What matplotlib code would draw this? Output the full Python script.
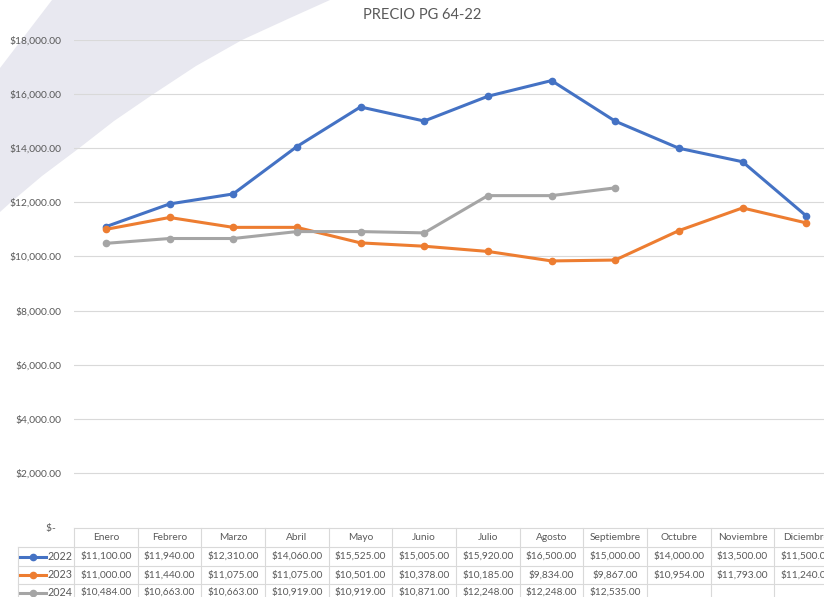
import numpy as np
import matplotlib
matplotlib.use("Agg")
import matplotlib.pyplot as plt
from matplotlib.patches import Polygon
from matplotlib.transforms import blended_transform_factory

plt.rcParams['font.family'] = ['Lato', 'DejaVu Sans']

title = "PRECIO PG 64-22"
months = ["Enero", "Febrero", "Marzo", "Abril", "Mayo", "Junio", "Julio",
          "Agosto", "Septiembre", "Octubre", "Noviembre", "Diciembre"]
series_names = ["2022", "2023", "2024"]
v2022 = [11100, 11940, 12310, 14060, 15525, 15005, 15920, 16500, 15000, 14000, 13500, 11500]
v2023 = [11000, 11440, 11075, 11075, 10501, 10378, 10185, 9834, 9867, 10954, 11793, 11240]
v2024 = [10484, 10663, 10663, 10919, 10919, 10871, 12248, 12248, 12535, None, None, None]
y_ticks = [0, 2000, 4000, 6000, 8000, 10000, 12000, 14000, 16000, 18000]
colors = ["#4472C4", "#ED7D31", "#A5A5A5"]

W, H = 824, 597
fig = plt.figure(figsize=(W / 100, H / 100), dpi=100)
fig.patch.set_facecolor("white")

# background axes in pixel coordinates
bg = fig.add_axes([0, 0, 1, 1], zorder=0)
bg.set_xlim(0, W)
bg.set_ylim(H, 0)
bg.axis("off")
swoosh = [(52, 0), (330, 0), (290, 18), (242, 40), (196, 66), (152, 95), (114, 121),
          (78, 149), (42, 176), (10, 203), (0, 212), (0, 68), (26, 34)]
bg.add_patch(Polygon(swoosh, closed=True, facecolor="#E8E8F0", edgecolor="none"))

ax = fig.add_axes([74 / W, 70 / H, 764 / W, 487 / H], zorder=1)
ax.patch.set_alpha(0)
x = np.arange(len(months))
ax.set_xlim(-0.5, len(months) - 0.5)
ax.set_ylim(0, 18000)
for s in ax.spines.values():
    s.set_visible(False)
ax.set_yticks(y_ticks)
ax.set_yticklabels(["$-  "] + ["${:,.2f}".format(v) for v in y_ticks[1:]])
ax.tick_params(axis="y", length=0, pad=9, labelsize=7.4, labelcolor="#595959")
ax.tick_params(axis="x", length=0, labelbottom=False)
for t in y_ticks[1:]:
    ax.axhline(t, color="#D9D9D9", lw=0.8, zorder=0)

all_series = [v2022, v2023, v2024]
for vals, c in zip(all_series, colors):
    arr = np.array([np.nan if v is None else v for v in vals], dtype=float)
    ax.plot(x, arr, color=c, lw=2.2, marker="o", markersize=4.5, zorder=3,
            solid_capstyle="round")

fig.text(422 / W, 1 - 15 / H, title, ha="center", va="center", fontsize=10.5, color="#595959")

# data table
tr = blended_transform_factory(ax.transData, bg.transData)
border = "#D9D9D9"
rows_y = [528, 547, 566, 584, 601]
edges = np.arange(len(months) + 1) - 0.5
for e in edges:
    bg.plot([e, e], [rows_y[0], rows_y[-1] + 5], color=border, lw=0.8, transform=tr, clip_on=False)
for ry in rows_y[:-1]:
    bg.plot([edges[0], edges[-1]], [ry, ry], color=border, lw=0.8, transform=tr, clip_on=False)
# legend key column
bg.plot([18, 18], [rows_y[1], rows_y[-1] + 5], color=border, lw=0.8)
for ry in rows_y[1:-1]:
    bg.plot([18, 74], [ry, ry], color=border, lw=0.8)

fs = 7.3
for i, m in enumerate(months):
    bg.text(i, (rows_y[0] + rows_y[1]) / 2, m, transform=tr, ha="center", va="center",
            fontsize=fs, color="#595959")
for r, (name, vals, c) in enumerate(zip(series_names, all_series, colors)):
    yc = (rows_y[r + 1] + rows_y[r + 2]) / 2
    for i, v in enumerate(vals):
        if v is None:
            continue
        bg.text(i, yc, "${:,.2f}".format(v), transform=tr, ha="center", va="center",
                fontsize=fs, color="#595959")
    bg.plot([20, 46], [yc, yc], color=c, lw=2.2)
    bg.plot([33], [yc], color=c, marker="o", markersize=4.5)
    bg.text(72, yc, name, ha="right", va="center", fontsize=fs + 0.4, color="#595959")

fig.savefig("out.png", dpi=100)
